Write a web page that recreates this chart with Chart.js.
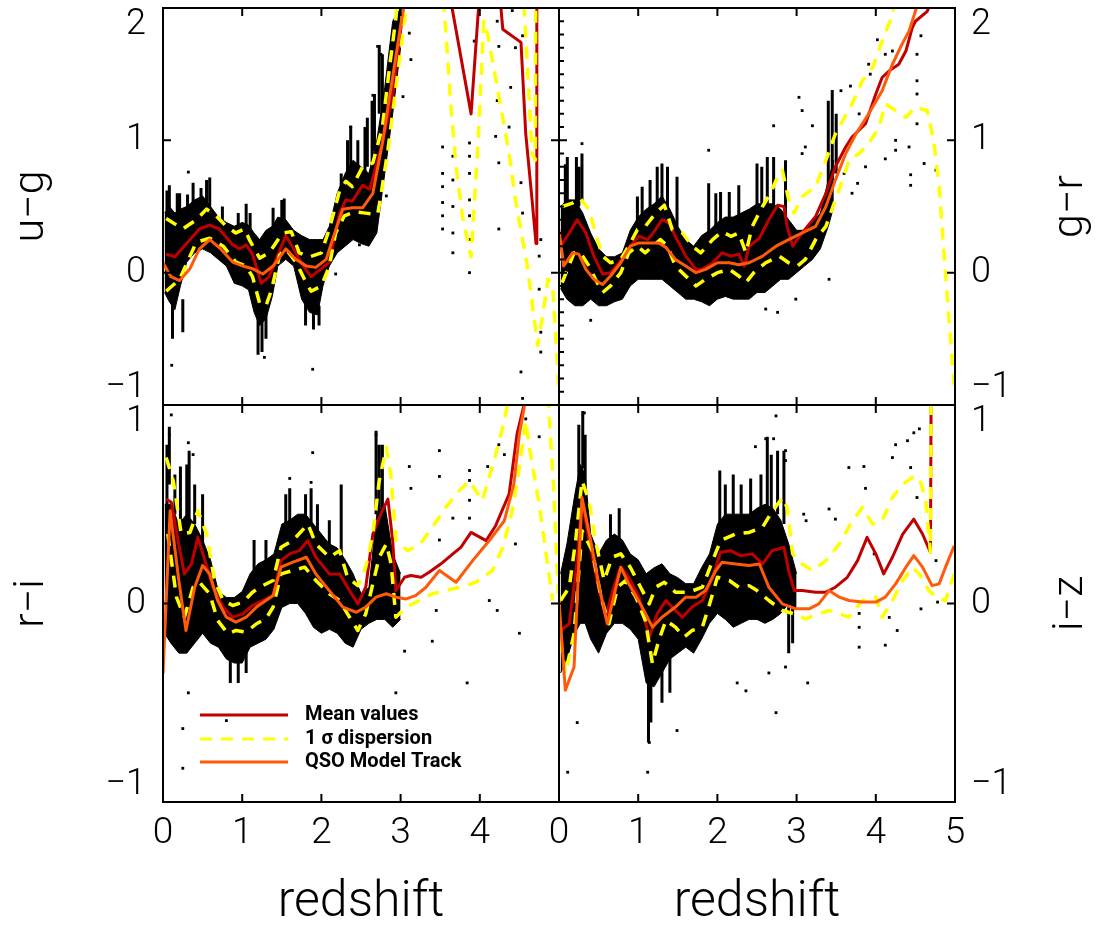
<!DOCTYPE html>
<html><head><meta charset="utf-8">
<script src="https://cdn.jsdelivr.net/npm/chart.js@4.4.1/dist/chart.umd.min.js"></script>
<style>
html,body{margin:0;padding:0;background:#fff;}
#wrap{position:relative;width:1101px;height:929px;background:#fff;overflow:hidden;}
#wrap canvas{position:absolute;left:0;top:0;}
</style></head><body>
<div id="wrap"><canvas id="c" width="1101" height="929"></canvas></div>
<script>
// ---------- axes ----------
const zTicks = [0,1,2,3,4,5];
const zLabelsLeft = ['0','1','2','3','4',''];
const zLabelsRight = ['0','1','2','3','4','5'];
const topYTicks = [-1,0,1,2];
const topYLabels = ['−1','0','1','2'];
const botYTicks = [-1,0,1];
const botYLabels = ['−1','0','1'];
const legendLabels = ['Mean values','1 σ dispersion','QSO Model Track'];

// ---------- u−g ----------
const ugMean = [[0.04,0.14],[0.15,0.12],[0.46,0.33],[0.59,0.36],[0.71,0.33],[0.88,0.21],[0.97,0.18],[1.05,0.21],[1.13,0.14],[1.24,-0.08],[1.34,-0.03],[1.55,0.28],[1.64,0.19],[1.76,0.06],[1.87,-0.03],[2.0,0.03],[2.1,0.08],[2.23,0.45],[2.31,0.55],[2.39,0.54],[2.52,0.66],[2.61,0.63],[2.77,0.98],[2.9,1.33],[3.03,1.98],[3.25,2.9],[3.45,2.9],[3.62,2.1],[3.89,1.2],[3.99,2.05],[4.1,2.6],[4.26,2.05],[4.29,1.84],[4.52,1.74],[4.58,1.05],[4.66,0.55],[4.71,0.22],[4.72,3.0]];
const ugSigHi = [[0.04,0.41],[0.25,0.33],[0.42,0.40],[0.55,0.48],[0.67,0.43],[0.8,0.35],[0.92,0.30],[1.03,0.33],[1.09,0.25],[1.22,0.11],[1.34,0.15],[1.51,0.30],[1.62,0.31],[1.72,0.15],[1.85,0.12],[2.0,0.15],[2.1,0.33],[2.23,0.62],[2.31,0.69],[2.39,0.65],[2.52,0.8],[2.65,0.83],[2.77,1.1],[2.86,1.55],[2.94,1.92],[3.0,2.3],[3.5,3.5],[4.4,3.5],[4.56,2.0],[4.66,0.9],[4.7,0.85],[4.71,3.0]];
const ugSigLo = [[0.04,-0.14],[0.21,-0.05],[0.42,0.23],[0.59,0.26],[0.76,0.20],[0.92,0.08],[1.05,0.05],[1.13,-0.03],[1.22,-0.23],[1.30,-0.25],[1.37,-0.13],[1.47,0.13],[1.55,0.18],[1.68,0.08],[1.81,-0.08],[1.87,-0.14],[2.0,-0.10],[2.10,0.05],[2.18,0.30],[2.29,0.43],[2.42,0.46],[2.56,0.45],[2.71,0.44],[2.75,0.58],[2.84,0.93],[2.92,1.30],[3.0,1.68],[3.07,2.0],[3.2,2.6],[3.45,2.6],[3.55,2.0],[3.63,1.3],[3.7,0.8],[3.78,0.43],[3.89,0.12],[3.98,1.0],[4.05,1.9],[4.1,1.8],[4.25,1.3],[4.37,0.9],[4.45,0.55],[4.6,0.05],[4.73,-0.55],[4.8,-0.3],[4.86,-0.05],[4.92,-0.1],[5.0,-0.9]];
const ugModel = [[0,0.075],[0.1,-0.03],[0.21,-0.06],[0.34,0.03],[0.46,0.18],[0.59,0.25],[0.71,0.19],[0.88,0.08],[1.01,0.05],[1.13,0.03],[1.26,-0.01],[1.39,0.05],[1.55,0.18],[1.68,0.1],[1.81,0.05],[1.93,0.04],[2.06,0.1],[2.14,0.25],[2.27,0.48],[2.39,0.49],[2.52,0.49],[2.65,0.6],[2.77,0.98],[2.9,1.48],[3.03,1.98],[3.2,2.6]];
const ugCloud = [[0.02,-0.15,0.45],[0.08,-0.22,0.5],[0.15,-0.28,0.45],[0.22,-0.1,0.48],[0.3,0.08,0.5],[0.4,0.15,0.55],[0.5,0.18,0.58],[0.6,0.15,0.5],[0.7,0.1,0.42],[0.8,0.05,0.38],[0.9,-0.08,0.35],[1.0,-0.1,0.38],[1.08,-0.13,0.36],[1.15,-0.3,0.3],[1.22,-0.4,0.25],[1.3,-0.35,0.32],[1.38,-0.18,0.35],[1.45,0.05,0.42],[1.55,0.1,0.4],[1.65,0.05,0.32],[1.75,-0.2,0.28],[1.85,-0.3,0.25],[1.95,-0.32,0.25],[2.02,-0.1,0.25],[2.1,0.05,0.35],[2.2,0.15,0.6],[2.3,0.2,0.75],[2.4,0.25,0.85],[2.5,0.22,0.8],[2.6,0.2,0.75],[2.7,0.3,1.0],[2.8,0.75,1.4],[2.9,1.2,1.9],[3.0,1.7,2.0]];
const ugStreaks = [[0.05,0.42,0.62],[0.08,0.4,0.66],[0.12,-0.5,-0.2],[0.18,0.4,0.6],[0.21,0.42,0.6],[0.25,-0.45,-0.2],[0.31,0.45,0.59],[0.38,0.5,0.68],[0.48,0.5,0.64],[0.55,0.5,0.7],[0.59,0.5,0.72],[0.75,0.35,0.5],[0.95,0.3,0.45],[1.05,0.35,0.52],[1.1,0.3,0.45],[1.2,-0.62,-0.3],[1.25,-0.6,-0.3],[1.3,-0.5,-0.3],[1.39,0.3,0.49],[1.5,0.35,0.55],[1.53,0.32,0.56],[1.8,-0.4,-0.2],[1.9,-0.43,-0.25],[1.97,-0.4,-0.25],[2.25,0.55,0.75],[2.33,0.6,1.0],[2.37,0.65,1.11],[2.46,0.65,1.0],[2.55,0.7,1.1],[2.58,0.8,1.17],[2.64,0.7,1.3],[2.67,0.92,1.35],[2.73,1.2,1.72],[2.77,1.1,1.65]];
const ugOutliers = [[0.32,0.76],[0.11,-0.7],[1.89,-0.73],[1.28,-0.64],[3.11,1.81],[3.13,1.61],[3.03,1.33],[2.82,0.58],[2.48,0.21],[2.18,-0.01],[3.53,0.95],[3.53,0.75],[3.53,0.65],[3.53,0.53],[3.53,0.43],[3.53,0.33],[3.66,0.88],[3.66,0.7],[3.66,0.5],[3.66,0.3],[3.66,0.15],[3.87,0.98],[3.87,0.88],[3.87,0.75],[3.87,0.55],[3.87,0.43],[3.87,0.25],[3.87,0.0],[3.93,1.75],[4.22,1.9],[4.24,1.71],[4.22,1.3],[4.2,1.03],[4.24,0.83],[4.24,0.33],[4.39,1.4],[4.37,1.1],[4.45,1.7],[4.41,1.98],[4.54,1.79],[4.52,0.68],[4.54,0.45],[4.77,0.25],[4.75,0.125],[4.75,-0.125],[4.77,-0.45],[4.77,-0.6],[4.52,-0.75],[4.54,-0.95],[2.71,1.71],[2.75,1.65],[2.65,1.34],[2.37,1.1]];

// ---------- g−r ----------
const grMean = [[0.02,0.2],[0.13,0.3],[0.23,0.4],[0.34,0.3],[0.44,0.125],[0.55,-0.01],[0.65,0.0],[0.76,0.075],[0.9,0.2],[1.01,0.275],[1.12,0.25],[1.22,0.325],[1.3,0.4],[1.39,0.375],[1.49,0.25],[1.6,0.125],[1.73,0.025],[1.81,0.025],[1.94,0.075],[2.06,0.15],[2.17,0.125],[2.27,0.14],[2.34,0.05],[2.4,0.2],[2.53,0.26],[2.65,0.4],[2.76,0.51],[2.84,0.5],[2.88,0.35],[2.95,0.2],[3.07,0.3],[3.24,0.425],[3.37,0.6],[3.49,0.8],[3.62,0.95],[3.7,1.025],[3.87,1.125],[4.0,1.35],[4.08,1.475],[4.17,1.525],[4.29,1.575],[4.38,1.675],[4.46,1.85],[4.5,1.9],[4.65,1.975],[4.8,2.2]];
const grSigHi = [[0.04,0.5],[0.17,0.525],[0.27,0.56],[0.38,0.475],[0.46,0.3],[0.55,0.125],[0.65,0.075],[0.78,0.1],[0.88,0.2],[0.99,0.325],[1.09,0.35],[1.22,0.45],[1.33,0.51],[1.43,0.325],[1.56,0.3],[1.68,0.2],[1.79,0.15],[1.94,0.25],[2.06,0.31],[2.17,0.275],[2.27,0.3],[2.36,0.15],[2.44,0.35],[2.57,0.5],[2.67,0.6],[2.76,0.725],[2.82,0.775],[2.9,0.55],[2.97,0.45],[3.07,0.575],[3.24,0.65],[3.37,0.85],[3.49,1.05],[3.7,1.275],[3.83,1.45],[3.96,1.55],[4.08,1.75],[4.21,1.95],[4.3,2.2]];
const grSigLo = [[0.04,-0.075],[0.19,0.15],[0.27,0.15],[0.38,0.05],[0.46,-0.05],[0.55,-0.15],[0.65,-0.1],[0.78,0.0],[0.88,0.15],[0.99,0.2],[1.09,0.15],[1.18,0.2],[1.28,0.25],[1.37,0.2],[1.47,0.05],[1.6,-0.025],[1.73,-0.1],[1.85,-0.05],[2.0,0.0],[2.15,0.025],[2.27,-0.025],[2.36,-0.075],[2.46,0.0],[2.61,0.075],[2.78,0.125],[2.9,0.075],[3.01,0.05],[3.11,0.1],[3.24,0.25],[3.37,0.35],[3.49,0.55],[3.58,0.7],[3.66,0.85],[3.79,0.9],[3.91,0.975],[4.04,1.1],[4.12,1.275],[4.25,1.225],[4.38,1.175],[4.5,1.25],[4.65,1.225],[4.73,1.0],[4.8,0.65],[4.86,0.15],[4.92,-0.325],[4.99,-0.85]];
const grModel = [[0,0.325],[0.06,0.05],[0.17,0.15],[0.25,0.14],[0.34,0.025],[0.44,-0.05],[0.55,-0.09],[0.65,-0.025],[0.78,0.075],[0.9,0.2],[1.01,0.225],[1.14,0.225],[1.26,0.225],[1.35,0.19],[1.47,0.1],[1.6,0.05],[1.73,0.0],[1.85,0.025],[2.0,0.075],[2.15,0.075],[2.27,0.06],[2.4,0.075],[2.57,0.125],[2.74,0.2],[2.9,0.25],[3.07,0.3],[3.24,0.35],[3.37,0.5],[3.49,0.7],[3.62,0.9],[3.75,1.05],[3.91,1.2],[4.08,1.375],[4.21,1.575],[4.33,1.725],[4.42,1.825],[4.5,1.975],[4.6,2.2]];
const grCloud = [[0.02,-0.12,0.5],[0.1,-0.2,0.55],[0.2,-0.25,0.55],[0.3,-0.25,0.45],[0.4,-0.2,0.3],[0.5,-0.25,0.18],[0.6,-0.25,0.12],[0.7,-0.22,0.12],[0.8,-0.2,0.15],[0.9,-0.1,0.32],[1.0,-0.05,0.42],[1.1,-0.05,0.48],[1.2,-0.05,0.52],[1.3,-0.05,0.58],[1.4,-0.1,0.48],[1.5,-0.15,0.35],[1.6,-0.2,0.25],[1.7,-0.2,0.2],[1.8,-0.22,0.28],[1.9,-0.25,0.32],[2.0,-0.2,0.38],[2.1,-0.18,0.42],[2.2,-0.2,0.42],[2.3,-0.2,0.45],[2.4,-0.2,0.48],[2.5,-0.15,0.52],[2.6,-0.15,0.52],[2.7,-0.1,0.52],[2.8,-0.05,0.48],[2.9,-0.05,0.4],[3.0,0.0,0.32],[3.1,0.05,0.32],[3.2,0.1,0.38],[3.3,0.18,0.45],[3.4,0.35,0.7],[3.47,0.5,0.85]];
const grStreaks = [[0.08,0.5,0.82],[0.105,0.55,0.875],[0.22,0.5,0.875],[0.25,0.5,0.8],[0.29,0.55,0.9],[0.99,0.3,0.575],[1.05,0.3,0.65],[1.15,0.4,0.7],[1.24,0.45,0.8],[1.3,0.45,0.825],[1.37,0.45,0.8],[1.49,0.35,0.725],[1.89,0.3,0.675],[1.98,0.3,0.6],[2.04,0.3,0.61],[2.15,0.3,0.61],[2.27,0.3,0.66],[2.5,0.3,0.825],[2.56,0.35,0.8],[2.63,0.3,0.875],[2.71,0.3,0.875],[2.86,0.3,0.85],[3.4,0.6,1.3],[3.45,0.7,1.38],[3.5,0.75,1.2]];
const grOutliers = [[0.29,0.975],[0.4,-0.36],[1.89,0.925],[2.71,1.11],[3.03,1.325],[3.07,1.225],[3.2,1.11],[3.11,0.95],[3.07,0.9],[3.41,-0.05],[2.99,-0.2],[2.76,-0.3],[2.61,-0.275],[3.56,1.375],[3.68,1.41],[3.79,1.2],[3.91,1.575],[3.93,1.5],[4.02,1.76],[4.12,1.65],[4.21,1.675],[4.25,1.0],[4.25,0.925],[4.42,0.95],[4.44,0.74],[4.44,0.66],[4.52,1.45],[4.52,1.35],[4.52,1.125],[4.52,1.65],[4.57,1.79],[4.61,0.825],[4.76,0.775],[3.77,0.675],[3.87,0.8],[4.12,0.86],[3.6,0.75],[3.7,0.6]];

// ---------- r−i ----------
const riMean = [[0.04,0.526],[0.105,0.51],[0.19,0.317],[0.27,0.149],[0.36,0.2],[0.44,0.333],[0.53,0.216],[0.63,0.082],[0.76,-0.018],[0.88,-0.069],[1.01,-0.052],[1.13,-0.01],[1.26,0.015],[1.39,0.04],[1.49,0.216],[1.6,0.25],[1.72,0.266],[1.83,0.317],[1.93,0.233],[2.1,0.149],[2.23,0.149],[2.33,0.082],[2.46,-0.002],[2.56,0.082],[2.65,0.35],[2.75,0.45],[2.84,0.526],[2.9,0.317],[2.94,0.065],[3.05,0.132],[3.13,0.141],[3.26,0.132],[3.36,0.157],[3.51,0.2],[3.66,0.25],[3.76,0.283],[3.89,0.358],[4.08,0.317],[4.2,0.392],[4.37,0.551],[4.47,0.853],[4.55,0.987],[4.6,1.2]];
const riSigHi = [[0.04,0.735],[0.13,0.618],[0.23,0.35],[0.34,0.358],[0.44,0.467],[0.55,0.35],[0.65,0.116],[0.76,0.015],[0.88,-0.01],[1.01,0.007],[1.13,0.057],[1.26,0.09],[1.39,0.116],[1.49,0.283],[1.64,0.317],[1.83,0.4],[1.93,0.3],[2.1,0.233],[2.23,0.266],[2.33,0.132],[2.46,0.09],[2.56,0.183],[2.65,0.35],[2.73,0.618],[2.82,0.786],[2.88,0.635],[2.94,0.317],[3.09,0.266],[3.25,0.3],[3.4,0.384],[3.57,0.484],[3.74,0.568],[3.87,0.618],[4.03,0.518],[4.18,0.719],[4.31,0.92],[4.37,1.05],[4.7,1.4],[4.86,1.05],[4.93,0.6],[4.99,0.05]];
const riSigLo = [[0.06,0.35],[0.17,0.032],[0.27,-0.069],[0.38,0.082],[0.46,0.107],[0.59,0.049],[0.69,-0.085],[0.82,-0.152],[0.92,-0.136],[1.05,-0.144],[1.18,-0.102],[1.3,-0.077],[1.39,-0.018],[1.49,0.149],[1.64,0.166],[1.79,0.183],[1.93,0.116],[2.1,0.049],[2.23,0.015],[2.33,-0.052],[2.46,-0.136],[2.56,-0.052],[2.65,0.1],[2.73,0.233],[2.82,0.3],[2.88,0.2],[2.94,-0.069],[3.07,-0.018],[3.24,0.015],[3.4,0.049],[3.57,0.065],[3.74,0.082],[3.95,0.107],[4.16,0.166],[4.29,0.283],[4.41,0.467],[4.5,0.685],[4.58,0.92],[4.62,0.8],[4.75,0.5],[4.92,0.015]];
const riModel = [[0,-0.353],[0.09,0.467],[0.2,0.116],[0.29,-0.136],[0.4,0.082],[0.5,0.191],[0.59,0.149],[0.69,0.015],[0.8,-0.069],[0.92,-0.094],[1.05,-0.069],[1.18,-0.018],[1.3,0.015],[1.39,0.04],[1.49,0.183],[1.64,0.208],[1.81,0.233],[1.93,0.149],[2.1,0.065],[2.27,-0.018],[2.44,-0.044],[2.56,-0.018],[2.69,0.032],[2.82,0.049],[2.94,0.032],[3.07,0.023],[3.19,0.04],[3.32,0.082],[3.49,0.166],[3.7,0.107],[3.91,0.216],[4.12,0.317],[4.31,0.417],[4.43,0.601],[4.5,0.853],[4.56,0.987],[4.6,1.2]];
const riCloud = [[0.02,-0.15,0.5],[0.1,-0.2,0.5],[0.2,-0.25,0.4],[0.3,-0.25,0.45],[0.4,-0.2,0.4],[0.5,-0.15,0.32],[0.6,-0.2,0.22],[0.7,-0.22,0.06],[0.8,-0.28,0.03],[0.9,-0.3,0.03],[1.0,-0.3,0.06],[1.1,-0.22,0.15],[1.2,-0.2,0.2],[1.3,-0.18,0.22],[1.4,-0.13,0.25],[1.5,-0.02,0.4],[1.6,0.0,0.42],[1.7,0.0,0.45],[1.8,-0.05,0.45],[1.9,-0.12,0.4],[2.0,-0.15,0.35],[2.1,-0.13,0.3],[2.2,-0.15,0.28],[2.3,-0.2,0.22],[2.4,-0.22,0.15],[2.5,-0.13,0.05],[2.6,-0.1,0.08],[2.7,-0.08,0.45],[2.8,-0.08,0.5],[2.9,-0.12,0.25],[3.0,-0.08,0.15]];
const riStreaks = [[0.05,0.5,0.8],[0.08,0.6,0.89],[0.15,0.45,0.65],[0.22,0.4,0.69],[0.3,0.4,0.7],[0.33,0.43,0.77],[0.4,0.4,0.6],[0.5,0.3,0.55],[0.85,-0.4,-0.2],[0.95,-0.4,-0.25],[1.05,-0.35,-0.2],[1.15,0.15,0.32],[1.3,0.2,0.32],[1.55,0.35,0.55],[1.6,0.4,0.58],[1.8,0.4,0.55],[1.87,0.4,0.58],[1.95,0.3,0.5],[2.1,0.25,0.42],[2.25,0.2,0.6],[2.69,0.45,0.87],[2.73,0.4,0.8],[2.77,0.43,0.8]];
const riOutliers = [[0.105,0.95],[0.08,0.85],[0.32,0.81],[0.38,0.75],[0.32,-0.45],[0.25,-0.63],[0.25,-0.83],[0.8,-0.59],[1.89,0.76],[1.6,0.63],[1.87,0.61],[2.69,0.85],[3.49,0.77],[3.49,0.64],[3.84,-0.4],[4.5,-0.15],[2.94,-0.45],[3.4,-0.19],[3.05,-0.24],[3.45,-0.035],[3.87,0.67],[3.87,0.62],[3.87,0.52],[3.87,0.43],[4.1,0.69],[4.24,0.8],[4.31,0.75],[4.45,0.3],[4.75,0.84],[4.58,0.93],[4.12,0.015],[4.22,-0.035],[3.66,0.43],[3.49,0.32],[3.11,0.69],[3.13,0.58]];

// ---------- i−z ----------
const izMean = [[0.02,-0.136],[0.13,-0.102],[0.23,0.216],[0.29,0.518],[0.38,0.317],[0.48,0.116],[0.59,-0.069],[0.69,0.082],[0.78,0.183],[0.88,0.132],[1.01,0.032],[1.14,-0.169],[1.24,-0.052],[1.35,0.015],[1.45,-0.027],[1.56,-0.069],[1.68,-0.018],[1.81,0.015],[1.94,0.132],[2.04,0.258],[2.17,0.266],[2.29,0.241],[2.44,0.25],[2.57,0.199],[2.69,0.266],[2.84,0.283],[2.9,0.166],[2.97,0.065],[3.07,0.065],[3.24,0.057],[3.37,0.057],[3.49,0.082],[3.64,0.132],[3.77,0.216],[3.89,0.333],[4.0,0.25],[4.1,0.149],[4.21,0.233],[4.34,0.35],[4.48,0.425],[4.59,0.35],[4.69,0.258],[4.7,1.2]];
const izSigHi = [[0.02,0.015],[0.13,0.082],[0.21,0.317],[0.29,0.618],[0.38,0.518],[0.46,0.317],[0.57,0.116],[0.67,0.233],[0.78,0.25],[0.9,0.183],[1.03,0.082],[1.14,-0.002],[1.22,0.082],[1.33,0.107],[1.47,0.057],[1.64,0.057],[1.81,0.082],[1.94,0.216],[2.04,0.317],[2.23,0.35],[2.4,0.358],[2.57,0.384],[2.67,0.45],[2.82,0.534],[2.88,0.484],[2.95,0.25],[3.07,0.199],[3.2,0.166],[3.37,0.216],[3.54,0.3],[3.68,0.4],[3.83,0.484],[3.96,0.4],[4.08,0.417],[4.21,0.534],[4.34,0.601],[4.46,0.635],[4.55,0.635],[4.63,0.518],[4.69,0.258],[4.7,1.2]];
const izSigLo = [[0.02,-0.186],[0.08,-0.353],[0.19,-0.152],[0.29,0.367],[0.42,0.266],[0.53,0.032],[0.63,-0.102],[0.74,0.082],[0.84,0.116],[0.97,0.032],[1.09,-0.085],[1.18,-0.303],[1.26,-0.186],[1.35,-0.085],[1.47,-0.119],[1.58,-0.169],[1.68,-0.136],[1.81,-0.119],[1.89,-0.018],[2.0,0.132],[2.15,0.116],[2.27,0.082],[2.4,0.09],[2.5,0.065],[2.65,0.015],[2.82,-0.035],[2.97,-0.052],[3.11,-0.077],[3.28,-0.052],[3.41,-0.035],[3.54,-0.052],[3.66,-0.069],[3.83,0.015],[4.0,0.032],[4.08,-0.069],[4.21,0.015],[4.34,0.116],[4.46,0.183],[4.55,0.149],[4.67,0.065],[4.76,0.032],[4.88,0.015],[4.99,0.149]];
const izModel = [[0,0.015],[0.08,-0.437],[0.19,-0.32],[0.29,0.534],[0.4,0.317],[0.51,0.082],[0.61,-0.102],[0.78,0.183],[0.88,0.099],[1.05,-0.018],[1.18,-0.119],[1.3,-0.069],[1.47,-0.018],[1.6,0.032],[1.73,0.032],[1.85,0.065],[1.98,0.166],[2.06,0.208],[2.23,0.199],[2.4,0.191],[2.53,0.199],[2.65,0.082],[2.82,-0.002],[2.99,-0.027],[3.16,-0.027],[3.28,-0.002],[3.41,0.065],[3.54,0.032],[3.66,0.015],[3.83,0.007],[4.0,0.007],[4.12,0.032],[4.25,0.099],[4.38,0.183],[4.48,0.241],[4.59,0.183],[4.71,0.09],[4.8,0.099],[4.88,0.183],[4.99,0.291]];
const izCloud = [[0.02,-0.35,0.15],[0.1,-0.28,0.3],[0.2,-0.15,0.55],[0.27,-0.1,0.7],[0.33,-0.1,0.65],[0.4,-0.18,0.35],[0.5,-0.25,0.25],[0.6,-0.15,0.32],[0.7,-0.1,0.35],[0.8,-0.1,0.32],[0.9,-0.13,0.25],[1.0,-0.18,0.22],[1.1,-0.4,0.15],[1.2,-0.42,0.18],[1.3,-0.35,0.2],[1.4,-0.28,0.15],[1.5,-0.25,0.13],[1.6,-0.22,0.1],[1.7,-0.25,0.1],[1.8,-0.18,0.18],[1.9,-0.1,0.25],[2.0,-0.05,0.4],[2.1,-0.08,0.45],[2.2,-0.12,0.45],[2.3,-0.1,0.45],[2.4,-0.08,0.45],[2.5,-0.08,0.48],[2.6,-0.1,0.5],[2.7,-0.08,0.48],[2.8,-0.05,0.42],[2.9,0.0,0.3],[3.0,-0.03,0.15]];
const izStreaks = [[0.25,0.6,0.9],[0.3,0.68,0.97],[0.33,0.6,0.85],[0.65,0.3,0.45],[0.76,0.27,0.48],[1.13,-0.7,-0.32],[1.16,-0.6,-0.35],[1.3,-0.5,-0.3],[1.4,-0.45,-0.25],[2.03,0.35,0.67],[2.1,0.4,0.6],[2.2,0.35,0.65],[2.3,0.4,0.6],[2.42,0.35,0.63],[2.55,0.4,0.65],[2.63,0.45,0.84],[2.68,0.45,0.75],[2.76,0.45,0.77],[2.84,0.4,0.77],[2.9,-0.25,0.0],[2.95,-0.2,0.05]];
const izOutliers = [[0.32,0.96],[0.11,-0.85],[0.23,-0.6],[1.12,-0.85],[1.14,-0.7],[1.49,-0.64],[2.74,-0.55],[2.25,-0.4],[2.36,-0.44],[2.65,-0.35],[2.86,-0.32],[3.14,-0.4],[2.74,0.945],[2.48,0.79],[2.61,0.83],[2.71,0.83],[2.86,0.77],[2.86,0.72],[3.66,0.685],[3.85,0.69],[3.87,0.58],[4.25,0.8],[4.21,0.735],[4.4,0.82],[4.48,0.86],[4.55,0.88],[4.44,0.685],[4.52,0.534],[4.76,0.216],[4.78,0.007],[4.57,-0.027],[4.12,-0.21],[4.27,-0.136],[3.79,-0.22],[3.79,-0.05],[3.79,-0.12],[3.41,0.476],[3.49,0.425],[3.09,0.45],[3.12,0.417],[3.98,0.25],[4.17,-0.07]];

// ---------- styles ----------
const FONT = "Roboto, 'Liberation Sans', Arial, sans-serif";
const MEAN_COLOR = '#c00000', SIG_COLOR = '#ffff00', MODEL_COLOR = '#ff5a0a';
const SIG_DASH = [12, 9];

function pts(a){ return a.map(p => ({x:p[0], y:p[1]})); }
// each streak [z, lo, hi] becomes one vertical segment of a gapped line
function streakPts(a){ return a.flatMap(s => [{x:s[0], y:s[1]}, {x:s[0], y:s[2]}, {x:s[0], y:null}]); }

function panelDatasets(xId, yId, mean, sigHi, sigLo, model, cloud, streaks, outliers){
  const ax = {xAxisID:xId, yAxisID:yId};
  const line = (d, c, w, dash, order) => Object.assign({type:'line', data:pts(d), borderColor:c, borderWidth:w, borderDash:dash, pointRadius:0, fill:false, tension:0, order, borderJoinStyle:'round'}, ax);
  return [
    line(model, MODEL_COLOR, 3, [], 1),
    line(sigHi, SIG_COLOR, 3.5, SIG_DASH, 2),
    line(sigLo, SIG_COLOR, 3.5, SIG_DASH, 2),
    line(mean, MEAN_COLOR, 3, [], 3),
    Object.assign({type:'scatter', data:pts(outliers), pointStyle:'rect', pointRadius:2, backgroundColor:'#000', borderWidth:0, order:4}, ax),
    Object.assign({type:'line', data:streakPts(streaks), borderColor:'#000', borderWidth:3, borderCapStyle:'butt', spanGaps:false, pointRadius:0, fill:false, tension:0, order:5}, ax),
    Object.assign({type:'line', data:cloud.map(c => ({x:c[0], y:c[2]})), borderColor:'#000', borderWidth:1, backgroundColor:'#000', fill:'+1', pointRadius:0, tension:0, order:6}, ax),
    Object.assign({type:'line', data:cloud.map(c => ({x:c[0], y:c[1]})), borderColor:'#000', borderWidth:1, pointRadius:0, fill:false, tension:0, order:7}, ax)
  ];
}

const datasets = [].concat(
  panelDatasets('xL','yTL', ugMean, ugSigHi, ugSigLo, ugModel, ugCloud, ugStreaks, ugOutliers),
  panelDatasets('xR','yTR', grMean, grSigHi, grSigLo, grModel, grCloud, grStreaks, grOutliers),
  panelDatasets('xL','yBL', riMean, riSigHi, riSigLo, riModel, riCloud, riStreaks, riOutliers),
  panelDatasets('xR','yBR', izMean, izSigHi, izSigLo, izModel, izCloud, izStreaks, izOutliers)
);

const PANELS = [
  {x:'xL', y:'yTL', ticks:topYTicks, title:'u−g', side:'left'},
  {x:'xR', y:'yTR', ticks:topYTicks, title:'g−r', side:'right', minorLeft:true},
  {x:'xL', y:'yBL', ticks:botYTicks, title:'r−i', side:'left', legend:true},
  {x:'xR', y:'yBR', ticks:botYTicks, title:'i−z', side:'right'}
];

// clip each dataset to its own panel
const panelClip = {
  id:'panelClip',
  beforeDatasetDraw(chart, args){
    const {xScale:xs, yScale:ys} = args.meta;
    const ctx = chart.ctx;
    ctx.save(); ctx.beginPath();
    ctx.rect(xs.left, ys.top, xs.right - xs.left, ys.bottom - ys.top);
    ctx.clip();
    ctx.beginPath();
  },
  afterDatasetDraw(chart){ chart.ctx.restore(); chart.ctx.beginPath(); }
};

const framePlugin = {
  id:'frame',
  afterDatasetsDraw(chart){
    const ctx = chart.ctx;
    ctx.save();
    ctx.strokeStyle = '#000'; ctx.lineWidth = 2;
    PANELS.forEach(p => {
      const x = chart.scales[p.x], y = chart.scales[p.y];
      const L = x.left, R = x.right, T = y.top, B = y.bottom;
      ctx.beginPath();
      ctx.rect(L, T, R - L, B - T);
      zTicks.forEach(t => { const px = x.getPixelForValue(t);
        ctx.moveTo(px, T); ctx.lineTo(px, T + 8);
        ctx.moveTo(px, B); ctx.lineTo(px, B - 8); });
      p.ticks.forEach(t => { const py = y.getPixelForValue(t);
        ctx.moveTo(L, py); ctx.lineTo(L + 8, py);
        ctx.moveTo(R, py); ctx.lineTo(R - 8, py); });
      if (p.minorLeft) {
        for (let k = Math.round(y.min*10) + 1; k < Math.round(y.max*10); k++) {
          if (k % 10 === 0) continue;
          const py = y.getPixelForValue(k/10);
          ctx.moveTo(L, py); ctx.lineTo(L + 5, py);
        }
      }
      ctx.stroke();
    });
    ctx.restore();
  }
};

const textPlugin = {
  id:'panelText',
  afterDraw(chart){
    const ctx = chart.ctx, a = chart.chartArea;
    ctx.save();
    PANELS.forEach(p => {
      const y = chart.scales[p.y], x = chart.scales[p.x];
      const bx = p.side === 'left' ? a.left - 120 : a.right + 127;
      ctx.save();
      ctx.translate(bx, (y.top + y.bottom)/2);
      ctx.rotate(-Math.PI/2);
      ctx.font = `300 43px ${FONT}`;
      ctx.fillStyle = '#000'; ctx.textAlign = 'center'; ctx.textBaseline = 'alphabetic';
      ctx.fillText(p.title, 0, 0);
      ctx.restore();
      if (p.legend) {
        const styles = [[MEAN_COLOR, []], [SIG_COLOR, SIG_DASH], [MODEL_COLOR, []]];
        const rows = [310, 334, 357];
        legendLabels.forEach((lab, i) => {
          const yy = y.top + rows[i];
          ctx.beginPath(); ctx.setLineDash(styles[i][1]);
          ctx.strokeStyle = styles[i][0]; ctx.lineWidth = 3;
          ctx.moveTo(x.left + 37, yy); ctx.lineTo(x.left + 125, yy); ctx.stroke();
          ctx.setLineDash([]);
          ctx.font = `bold 20px ${FONT}`; ctx.fillStyle = '#000';
          ctx.textAlign = 'left'; ctx.textBaseline = 'middle';
          ctx.fillText(lab, x.left + 142, yy);
        });
      }
    });
    ctx.restore();
  }
};

function xScale(labels){
  return {type:'linear', axis:'x', position:'bottom', stack:'bottom', stackWeight:1, min:0, max:5, offset:false,
    grid:{display:false, drawTicks:false, offset:false}, border:{display:false},
    afterBuildTicks:s => { s.ticks = zTicks.map(v => ({value:v})); },
    ticks:{autoSkip:false, maxRotation:0, minRotation:0, padding:10, color:'#000',
      font:{family:FONT, size:37, weight:300, lineHeight:1.2},
      callback:(v) => labels[zTicks.indexOf(v)]},
    title:{display:true, text:'redshift', color:'#000',
      font:{family:FONT, size:50, weight:300, lineHeight:1.2}, padding:{top:0, bottom:-4}},
    afterFit:s => { s.height = 127; s.paddingLeft = 0; s.paddingRight = 0; }};
}
function yScale(side, ticks, labels, width){
  const n = ticks.length;
  return {type:'linear', axis:'y', position:side, stack:side, stackWeight:1, min:ticks[0], max:ticks[n-1],
    grid:{display:false, drawTicks:false}, border:{display:false},
    afterBuildTicks:s => { s.ticks = ticks.map(v => ({value:v})); },
    ticks:{autoSkip:false, padding:side === 'left' ? 17 : 16, color:'#000',
      font:{family:FONT, size:36, weight:300, lineHeight:0.95},
      callback:(v) => { const i = ticks.indexOf(v); const s = labels[i];
        if (i === n-1) return ['', s]; if (i === 0) return [s, '']; return s; }},
    afterFit:s => { s.width = width; s.paddingTop = 0; s.paddingBottom = 0; }};
}

new Chart(document.getElementById('c'), {
  type:'scatter',
  data:{datasets},
  plugins:[panelClip, framePlugin, textPlugin],
  options:{
    responsive:false, animation:false, events:[], devicePixelRatio:1,
    layout:{padding:{top:8, left:0, right:1, bottom:0}},
    plugins:{legend:{display:false}, tooltip:{enabled:false}},
    scales:{
      xL:xScale(zLabelsLeft),
      xR:xScale(zLabelsRight),
      // left-hand boxes are laid out in reverse order, so the lower panel's axis is declared first
      yBL:yScale('left', botYTicks, botYLabels, 163),
      yTL:yScale('left', topYTicks, topYLabels, 163),
      yTR:yScale('right', topYTicks, topYLabels, 145),
      yBR:yScale('right', botYTicks, botYLabels, 145)
    }
  }
});
</script>
</body></html>
